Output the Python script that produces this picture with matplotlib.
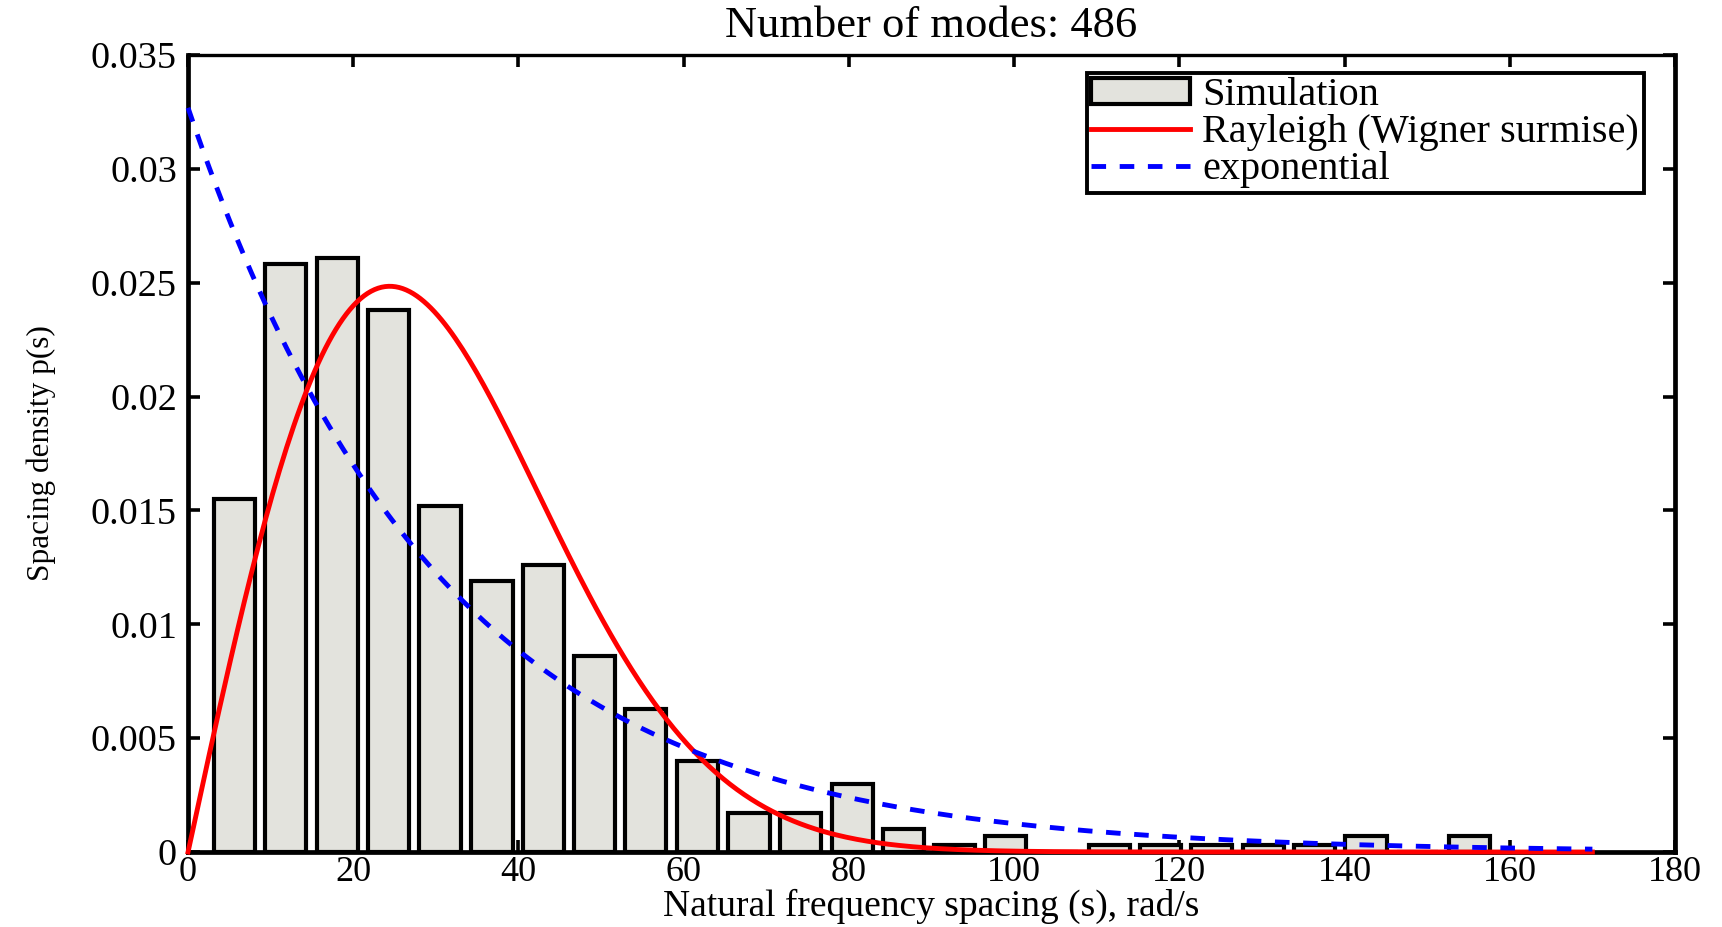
import numpy as np
import matplotlib
matplotlib.use('Agg')
import matplotlib.pyplot as plt

plt.rcParams['font.family'] = ['Liberation Serif', 'DejaVu Serif']

# histogram of the simulated spacings (bin centres, rad/s) and densities
bin_centres = [5.6, 11.8, 18.1, 24.3, 30.5, 36.8, 43.0, 49.2, 55.4, 61.7,
               67.9, 74.1, 80.4, 86.6, 92.8, 99.0, 105.3, 111.5, 117.7, 123.9,
               130.2, 136.4, 142.6, 148.8, 155.1]
spacing_density = [0.0155, 0.0258, 0.0261, 0.0238, 0.0152, 0.0119, 0.0126, 0.0086, 0.0063, 0.0040,
                   0.0017, 0.0017, 0.0030, 0.0010, 0.0003, 0.0007, 0.0, 0.0003, 0.0003, 0.0003,
                   0.0003, 0.0003, 0.0007, 0.0, 0.0007]
bin_width = 6.23
n_modes = 486

# mean spacing used by both theoretical curves
mean_spacing = 30.6
s_max = 170.0

xticks = [0, 20, 40, 60, 80, 100, 120, 140, 160, 180]
yticks = [0, 0.005, 0.01, 0.015, 0.02, 0.025, 0.03, 0.035]
ytick_labels = ['0', '0.005', '0.01', '0.015', '0.02', '0.025', '0.03', '0.035']

fig = plt.figure(figsize=(17.22, 9.27), dpi=100)
ax = fig.add_axes([0.1092, 0.0809, 0.8635, 0.8598])

bars = ax.bar(bin_centres, spacing_density, width=0.8 * bin_width, color='#e3e3dd',
              edgecolor='black', linewidth=3.0, label='Simulation', zorder=2)

# theoretical spacing distributions
s = np.linspace(0, s_max, 400)
rayleigh = np.pi * s / (2 * mean_spacing**2) * np.exp(-np.pi * s**2 / (4 * mean_spacing**2))
expo = np.exp(-s / mean_spacing) / mean_spacing
l_ray, = ax.plot(s, rayleigh, color='#ff0000', lw=3.5, label='Rayleigh (Wigner surmise)',
                 zorder=3, clip_on=False)
l_exp, = ax.plot(s, expo, color='#0000ff', lw=3.5, dashes=(3.0, 2.8), label='exponential',
                 zorder=3, clip_on=False)

ax.set_xlim(0, 180)
ax.set_ylim(0, 0.035)
ax.set_xticks(xticks)
ax.set_yticks(yticks)
ax.set_yticklabels(ytick_labels)
ax.tick_params(direction='in', top=True, right=True, length=8.5, width=2.6)
ax.tick_params(axis='x', pad=3, labelsize=26)
ax.tick_params(axis='y', pad=8, labelsize=27.5)

for side in ['left', 'bottom', 'right']:
    ax.spines[side].set_linewidth(3.4)
ax.spines['top'].set_linewidth(2.4)

ax.set_title('Number of modes: %d' % n_modes, fontsize=32, pad=13)
ax.set_xlabel('Natural frequency spacing (s), rad/s', fontsize=27, labelpad=0)
ax.set_ylabel('Spacing density p(s)', fontsize=22.5, labelpad=25)

leg = ax.legend([bars, l_ray, l_exp],
                ['Simulation', 'Rayleigh (Wigner surmise)', 'exponential'],
                loc='upper right', bbox_to_anchor=(0.979, 0.978), fontsize=29,
                fancybox=False, framealpha=1, edgecolor='black',
                handlelength=2.45, handleheight=0.62, handletextpad=0.3,
                labelspacing=0.0, borderpad=0.12, borderaxespad=0)
leg.get_frame().set_linewidth(2.8)

fig.savefig('out.png', dpi=100)
